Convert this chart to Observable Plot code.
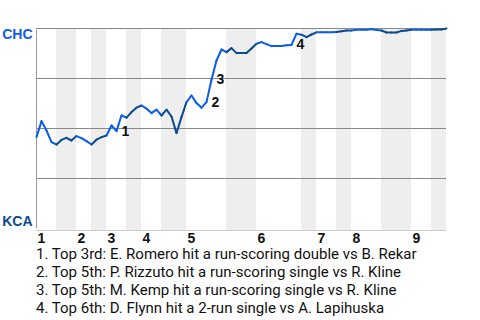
<!DOCTYPE html>
<html>
<head>
<meta charset="utf-8">
<script src="https://cdn.jsdelivr.net/npm/d3@7"></script>
<script src="https://cdn.jsdelivr.net/npm/@observablehq/plot@0.6"></script>
<style>
  html, body { margin: 0; padding: 0; background: #fff; }
  #chart svg { display: block; }
  #caption { font-family: Roboto, "Liberation Sans", Arial, sans-serif; font-size: 15px; line-height: 18px; color: #111; margin-left: 36px; margin-top: -6px; }
</style>
</head>
<body>
<div id="chart"></div>
<div id="caption"></div>
<script>
// Win probability for CHC (1 = CHC wins) after each plate appearance
const paIndex = d3.range(0, 83);
const chcWinProb = [
  0.457, 0.537, 0.49, 0.432, 0.42, 0.443, 0.453, 0.44, 0.462, 0.452,
  0.437, 0.42, 0.444, 0.457, 0.465, 0.515, 0.487, 0.565, 0.554, 0.582,
  0.604, 0.615, 0.599, 0.577, 0.594, 0.565, 0.594, 0.56, 0.477, 0.557,
  0.632, 0.665, 0.627, 0.604, 0.632, 0.744, 0.84, 0.895, 0.882, 0.902,
  0.877, 0.877, 0.877, 0.9, 0.924, 0.932, 0.922, 0.912, 0.912, 0.912,
  0.916, 0.918, 0.974, 0.969, 0.957, 0.97, 0.981, 0.981, 0.981, 0.981,
  0.982, 0.986, 0.99, 0.99, 0.994, 0.994, 0.994, 0.996, 0.993, 0.99,
  0.98, 0.98, 0.98, 0.988, 0.99, 0.994, 0.994, 0.994, 0.994, 0.994,
  0.995, 0.995, 1.0
];
// Innings (PA index boundaries)
const inningLabels = ["1", "2", "3", "4", "5", "6", "7", "8", "9"];
const inningStart = [0, 8, 14, 21, 30, 44, 56, 63, 75];
const bottomStart = [4, 11, 18, 25, 38, 53, 60, 69, 79];
const bottomEnd = [8, 14, 21, 30, 44, 56, 63, 75, 82];
// Key events
const eventLabels = ["1", "2", "3", "4"];
const eventIndex = [16, 34, 35, 51];
const eventTexts = [
  "1. Top 3rd: E. Romero hit a run-scoring double vs B. Rekar",
  "2. Top 5th: P. Rizzuto hit a run-scoring single vs R. Kline",
  "3. Top 5th: M. Kemp hit a run-scoring single vs R. Kline",
  "4. Top 6th: D. Flynn hit a 2-run single vs A. Lapihuska"
];
const teams = ["CHC", "KCA"];
const teamColors = ["#0a5ced", "#0b4a8e"];

const points = paIndex.map((x, i) => ({x, p: chcWinProb[i]}));
const segments = d3.pairs(points).map(([a, b]) => {
  const mid = (a.x + b.x) / 2;
  const isBottom = bottomStart.some((s, i) => mid >= s && mid < bottomEnd[i]);
  return {x1: a.x, y1: a.p, x2: b.x, y2: b.p, c: isBottom ? teamColors[1] : teamColors[0]};
});
const bands = bottomStart.map((s, i) => ({x1: s, x2: bottomEnd[i]}));
const innings = inningLabels.map((t, i) => ({t, x: inningStart[i]}));
const events = eventLabels.map((t, i) => ({t, x: paIndex[eventIndex[i]], p: chcWinProb[eventIndex[i]]}));

const chart = Plot.plot({
  width: 480,
  height: 251,
  marginLeft: 36,
  marginRight: 34,
  marginTop: 28,
  marginBottom: 23,
  x: {domain: [0, 82], axis: null},
  y: {domain: [0, 1], axis: null},
  style: {fontFamily: "'Liberation Sans', Arial, sans-serif", background: "#fff"},
  marks: [
    Plot.rect(bands, {x1: "x1", x2: "x2", y1: 0, y2: 1, fill: "#eeeeee", insetBottom: -2}),
    Plot.ruleY([0], {stroke: "#cccccc", dy: 2}),
    Plot.ruleY([0.25, 0.5, 0.75, 1], {stroke: "#888888", strokeWidth: 1}),
    Plot.ruleX([0], {y1: 0, y2: 1, stroke: "#999999", insetBottom: -2}),
    Plot.link(segments, {x1: "x1", y1: "y1", x2: "x2", y2: "y2", stroke: "c", strokeWidth: 2, strokeLinecap: "round", strokeLinejoin: "round"}),
    Plot.text(events, {x: "x", y: "p", text: "t", dx: 5, textAnchor: "start", fontSize: 14, fontWeight: "bold", fill: "#111"}),
    Plot.text(innings, {x: "x", y: 0, text: "t", dx: 1, dy: 10, textAnchor: "start", fontSize: 14, fontWeight: "bold", fill: "#111"}),
    Plot.text([teams[0]], {x: 0, y: 1, text: d => d, dx: -4, dy: 6, textAnchor: "end", fontSize: 14, fontWeight: "bold", fill: teamColors[0]}),
    Plot.text([teams[1]], {x: 0, y: 0, text: d => d, dx: -4, dy: -7, textAnchor: "end", fontSize: 14, fontWeight: "bold", fill: teamColors[1]})
  ]
});
document.getElementById("chart").appendChild(chart);
document.getElementById("caption").innerHTML = eventTexts.map(t => `<div>${t}</div>`).join("");
</script>
</body>
</html>
